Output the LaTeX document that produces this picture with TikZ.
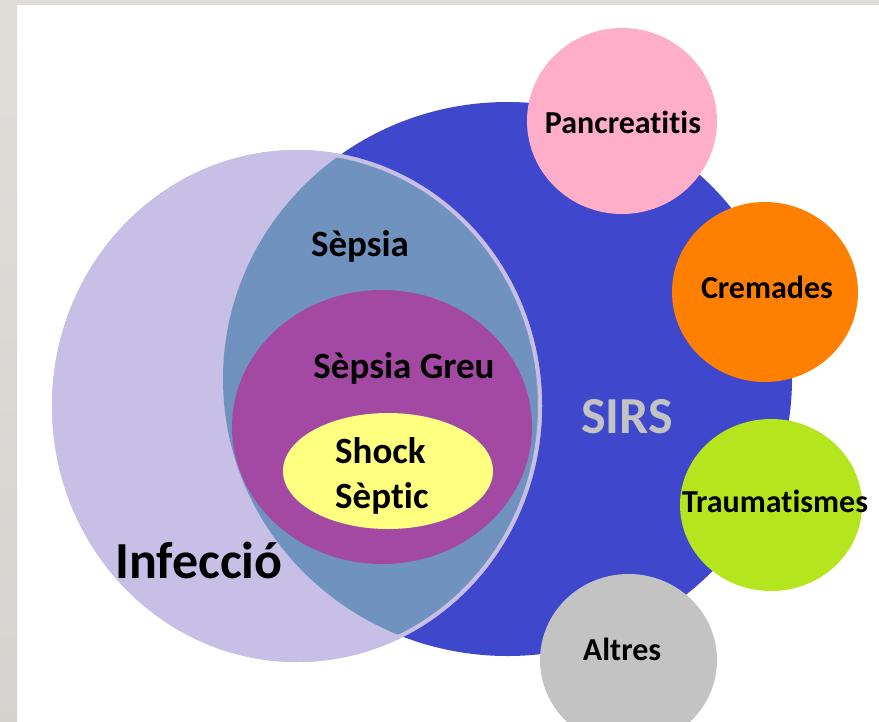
\documentclass[tikz,border=0pt]{standalone}
\usepackage{fontspec}
\setmainfont{Carlito}[Ligatures=NoCommon]
\usepackage{tikz}

\definecolor{sirsblue}{HTML}{3F48CC}
\definecolor{lavender}{HTML}{C8BFE7}
\definecolor{steel}{HTML}{7092BE}
\definecolor{greu}{HTML}{A349A4}
\definecolor{shock}{HTML}{FFFF80}
\definecolor{rose}{HTML}{FFAEC9}
\definecolor{burn}{HTML}{FF8000}
\definecolor{lime}{HTML}{B5E61D}
\definecolor{other}{HTML}{C3C3C3}
\definecolor{frame}{HTML}{E0DCD8}

\tikzset{
  lbl/.style={font=\fontsize{32}{36}\selectfont\bfseries, anchor=base, inner sep=0pt},
  inlbl/.style={font=\fontsize{37}{42}\selectfont\bfseries, anchor=base, inner sep=0pt},
  biglbl/.style={font=\fontsize{52}{58}\selectfont\bfseries, anchor=base, inner sep=0pt}
}

\begin{document}
\begin{tikzpicture}[x=1pt,y=-1pt]
        % frame and page
        \useasboundingbox (0,0) rectangle (879,721);
        \fill[white] (0,0) rectangle (879,721);
        \fill[frame] (0,0) rectangle (879,5);
        \shade[top color=frame, bottom color=frame!90!gray] (0,5) rectangle (17,721);
        % SIRS and infection
        \fill[sirsblue] (507.5,379) ellipse [x radius=284.5pt, y radius=277pt];
        \fill[lavender] (297,406) ellipse [x radius=245pt, y radius=256pt];
        \begin{scope}
            \clip (507.5,379) ellipse [x radius=284.5pt, y radius=277pt];
            \fill[steel] (297,406) ellipse [x radius=245pt, y radius=256pt];
        \end{scope}
        \draw[lavender, line width=4pt] (297,406) ellipse [x radius=243pt, y radius=254pt];
        % the other causes
        \fill[rose] (622,121) ellipse [x radius=95pt, y radius=93pt];
        \fill[burn] (765,292) ellipse [x radius=93pt, y radius=90pt];
        \fill[lime] (771,505) ellipse [x radius=91pt, y radius=86pt];
        \fill[other] (628.5,660) ellipse [x radius=88.5pt, y radius=86pt];
        % sepsis levels
        \fill[greu] (382,427) ellipse [x radius=150pt, y radius=137pt];
        \fill[shock] (388,471) ellipse [x radius=105pt, y radius=58pt];
        % labels
        \node[inlbl] (sepsia) at (360,256) {Sèpsia};
        \node[inlbl] (greu) at (404,378) {Sèpsia Greu};
        \node[inlbl, anchor=base west] (shockA) at (335,463) {Shock};
        \node[inlbl, anchor=base west] (shockB) at (335,508) {Sèptic};
        \node[biglbl] (infeccio) at (199,578) {Infecció};
        \node[biglbl, text=other] (sirs) at (627,433) {SIRS};
        \node[lbl] (pancreatitis) at (623,133) {Pancreatitis};
        \node[lbl] (cremades) at (767,298) {Cremades};
        \node[lbl] (trauma) at (775,512) {Traumatismes};
        \node[lbl] (altres) at (622,660) {Altres};
\end{tikzpicture}
\end{document}
